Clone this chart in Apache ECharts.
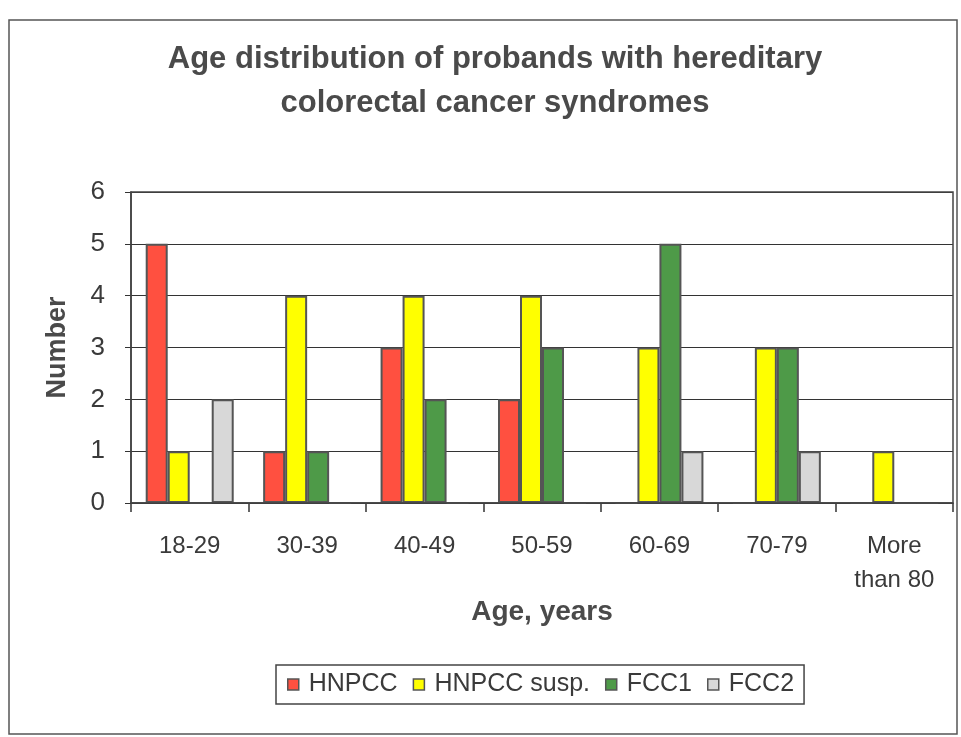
<!DOCTYPE html>
<html><head><meta charset="utf-8">
<script src="https://cdn.jsdelivr.net/npm/echarts@6/dist/echarts.min.js"></script>
<style>html,body{margin:0;padding:0;background:#fff}#c{width:961px;height:737px}</style>
</head><body><div id="c"></div>
<script>
const categories = ['18-29','30-39','40-49','50-59','60-69','70-79','More\nthan 80'];
const hnpcc = [5,1,3,2,0,0,0];
const hnpccSusp = [1,4,4,4,3,3,1];
const fcc1 = [0,1,2,3,5,3,0];
const fcc2 = [2,0,0,0,1,1,0];
const seriesNames = ['HNPCC','HNPCC susp.','FCC1','FCC2'];
const colors = ['#FF5040','#FFFF00','#4E9A48','#D8D8D8'];
const font = 'Liberation Sans, Arial, sans-serif';
const textCol = '#3a3a3a';
const chart = echarts.init(document.getElementById('c'));
const mk = (name, data, i) => ({
  name, type:'bar', data, barWidth: 22, barGap: '0%',
  itemStyle:{color:colors[i], borderColor:'#555', borderWidth:2}
});
chart.setOption({
  animation:false,
  title:{text:'Age distribution of probands with hereditary\ncolorectal cancer syndromes', left:490, top:32, textAlign:'center',
    textStyle:{fontFamily:font, fontSize:31, fontWeight:'bold', color:'#4a4a4a', lineHeight:44}},
  grid:{left:131, right:8, top:192, bottom:234},
  legend:{top:665, left:276, itemWidth:11, itemHeight:11, itemGap:15,
    borderColor:'#444', borderWidth:1.5, padding:[7,10,7,11],
    textStyle:{fontFamily:font, fontSize:25, color:textCol, padding:[0,0,0,5], lineHeight:25},
    data: seriesNames.map((n,i)=>({name:n, icon:'rect', itemStyle:{borderColor:'#555', borderWidth:1.5}}))},
  xAxis:{type:'category', data:categories,
    axisLine:{lineStyle:{color:'#333', width:1.5}},
    axisTick:{show:true, length:9, lineStyle:{color:'#333', width:1.5}},
    axisLabel:{fontFamily:font, fontSize:24, color:textCol, margin:26, lineHeight:34},
    name:'Age, years', nameLocation:'middle', nameGap:90,
    nameTextStyle:{fontFamily:font, fontSize:28, fontWeight:'bold', color:'#4a4a4a'}},
  yAxis:{type:'value', min:0, max:6, interval:1,
    axisLine:{show:true, lineStyle:{color:'#333', width:1.5}},
    axisTick:{show:true, length:6, lineStyle:{color:'#333'}},
    splitLine:{lineStyle:{color:'#333', width:1.2}},
    axisLabel:{fontFamily:font, fontSize:26, color:textCol, margin:26},
    name:'Number', nameLocation:'middle', nameGap:60, nameRotate:90,
    nameTextStyle:{fontFamily:font, fontSize:27, fontWeight:'bold', color:'#4a4a4a'}},
  graphic:[
    {type:'rect', shape:{x:9, y:20, width:948, height:714}, style:{fill:'none', stroke:'#555', lineWidth:1.5}, silent:true},
    {type:'rect', shape:{x:131, y:192, width:822, height:311}, style:{fill:'none', stroke:'#444', lineWidth:1.5}, silent:true, z:10}
  ],
  series:[mk(seriesNames[0],hnpcc,0), mk(seriesNames[1],hnpccSusp,1), mk(seriesNames[2],fcc1,2), mk(seriesNames[3],fcc2,3)]
});
</script></body></html>
